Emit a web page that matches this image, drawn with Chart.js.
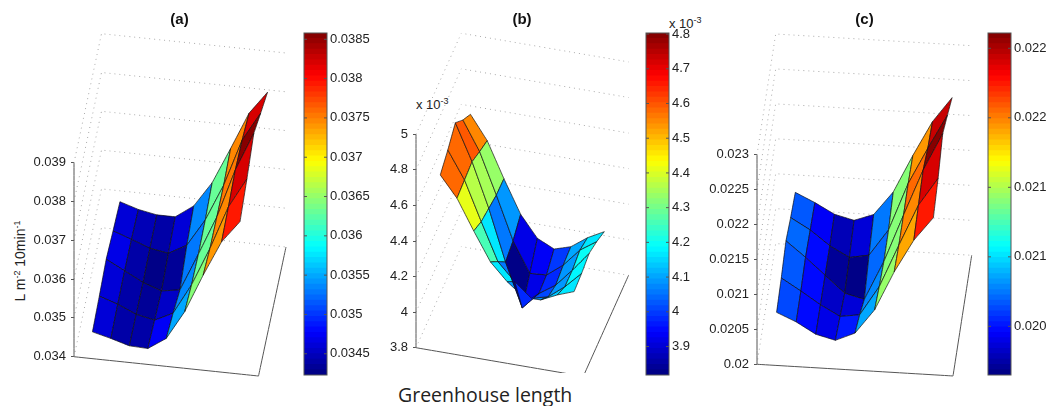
<!DOCTYPE html>
<html>
<head>
<meta charset="utf-8">
<title>Greenhouse length</title>
<script src="https://cdn.jsdelivr.net/npm/chart.js@4"></script>
<style>
  html, body { margin: 0; padding: 0; background: #fff; overflow: hidden; }
  #page { position: relative; width: 1051px; height: 406px; overflow: hidden; font-family: "Liberation Sans", Arial, sans-serif; color: #222; }
  #page canvas { position: absolute; top: 0; }
  .note { position: absolute; font-size: 13px; line-height: 13px; white-space: nowrap; }
  .note sup { font-size: 9px; line-height: 0; vertical-align: 5px; }
  #ylabel { left: 20px; top: 261px; font-size: 14px; transform: translate(-50%, -50%) rotate(-90deg); }
  #xlabel { left: 398px; top: 381px; font-family: "Open Sans", sans-serif; font-size: 19.5px; line-height: 28px; }
  #expB { left: 416px; top: 98px; }
  #expBar { left: 669px; top: 17px; }
</style>
</head>
<body>
<div id="page">
  <div class="note" id="ylabel">L m<sup>-2</sup> 10min<sup>-1</sup></div>
  <div class="note" id="xlabel">Greenhouse length</div>
  <div class="note" id="expB">x 10<sup>-3</sup></div>
  <div class="note" id="expBar">x 10<sup>-3</sup></div>
</div>
<script>
// surface heights, one list per column along the greenhouse, front row first
const zA = [
  [0.03469, 0.03478, 0.03490, 0.03480, 0.03472],
  [0.03457, 0.03462, 0.03465, 0.03463, 0.03457],
  [0.03443, 0.03441, 0.03440, 0.03445, 0.03448],
  [0.03441, 0.03431, 0.03423, 0.03437, 0.03448],
  [0.03472, 0.03454, 0.03431, 0.03463, 0.03481],
  [0.03546, 0.03532, 0.03528, 0.03533, 0.03546],
  [0.03645, 0.03631, 0.03629, 0.03628, 0.03639],
  [0.03736, 0.03743, 0.03755, 0.03749, 0.03735],
  [0.03793, 0.03820, 0.03854, 0.03823, 0.03794]
];
// panel b is in units of 10^-3
const zB = [
  [4.693, 4.739, 4.797, 4.718, 4.655],
  [4.578, 4.586, 4.594, 4.556, 4.523],
  [4.410, 4.368, 4.348, 4.328, 4.325],
  [4.252, 4.159, 4.062, 4.087, 4.141],
  [4.157, 4.063, 3.820, 3.920, 4.022],
  [4.085, 3.985, 3.918, 3.927, 3.978],
  [4.087, 4.010, 3.981, 3.999, 4.007],
  [4.131, 4.083, 4.082, 4.100, 4.074],
  [4.166, 4.174, 4.192, 4.163, 4.124]
];
const zC = [
  [0.02076, 0.02082, 0.02092, 0.02082, 0.02075],
  [0.02064, 0.02065, 0.02070, 0.02066, 0.02062],
  [0.02048, 0.02047, 0.02046, 0.02045, 0.02047],
  [0.02041, 0.02032, 0.02022, 0.02030, 0.02040],
  [0.02053, 0.02036, 0.02015, 0.02035, 0.02050],
  [0.02088, 0.02078, 0.02071, 0.02073, 0.02084],
  [0.02144, 0.02139, 0.02139, 0.02141, 0.02138],
  [0.02191, 0.02198, 0.02205, 0.02193, 0.02188],
  [0.02225, 0.02238, 0.02259, 0.02242, 0.02224]
];

const axisTicksA = [0.034, 0.035, 0.036, 0.037, 0.038, 0.039];
const axisLabelsA = ["0.034", "0.035", "0.036", "0.037", "0.038", "0.039"];
const axisTicksB = [3.8, 4, 4.2, 4.4, 4.6, 4.8, 5];
const axisLabelsB = ["3.8", "4", "4.2", "4.4", "4.6", "4.8", "5"];
const axisTicksC = [0.02, 0.0205, 0.021, 0.0215, 0.022, 0.0225, 0.023];
const axisLabelsC = ["0.02", "0.0205", "0.021", "0.0215", "0.022", "0.0225", "0.023"];

const barTicksA = [0.0345, 0.035, 0.0355, 0.036, 0.0365, 0.037, 0.0375, 0.038, 0.0385];
const barLabelsA = ["0.0345", "0.035", "0.0355", "0.036", "0.0365", "0.037", "0.0375", "0.038", "0.0385"];
const barTicksB = [3.9, 4, 4.1, 4.2, 4.3, 4.4, 4.5, 4.6, 4.7, 4.8];
const barLabelsB = ["3.9", "4", "4.1", "4.2", "4.3", "4.4", "4.5", "4.6", "4.7", "4.8"];
const barTicksC = [0.0205, 0.021, 0.0215, 0.022, 0.0225];
const barLabelsC = ["0.020", "0.021", "0.021", "0.022", "0.022"];

const climA = [0.03423, 0.03858];
const climB = [3.818, 4.803];
const climC = [0.02015, 0.02261];

Chart.defaults.font.family = '"Liberation Sans", Arial, sans-serif';
Chart.defaults.font.size = 13;
Chart.defaults.color = "#222";
Chart.defaults.animation = false;

// matlab jet, 64 steps
function jet(t) {
  const level = Math.min(63, Math.max(0, Math.floor(t * 64)));
  const u = (level + 0.5) / 64;
  const part = v => Math.round(255 * Math.min(1, Math.max(0, v)));
  const r = part(Math.min(4 * u - 1.5, -4 * u + 4.5));
  const g = part(Math.min(4 * u - 0.5, -4 * u + 3.5));
  const b = part(Math.min(4 * u + 0.5, -4 * u + 2.5));
  return `rgb(${r},${g},${b})`;
}

function addCanvas(left, width, height) {
  const c = document.createElement("canvas");
  c.width = width;
  c.height = height;
  c.style.left = left + "px";
  c.style.width = width + "px";
  c.style.height = height + "px";
  document.getElementById("page").appendChild(c);
  return c;
}

// view: shear of the fixed matlab camera, expressed in axis units
function project(view, i, j, z) {
  return { x: i + j * view.kx, y: z + i * view.ki + j * view.kj };
}

function lineSet(points, color, dash) {
  return {
    data: points,
    showLine: true,
    borderColor: color,
    borderWidth: 1,
    borderDash: dash || [],
    pointRadius: 0,
    fill: false,
    tension: 0.00001,
    clip: { left: 5, top: 5, right: 5, bottom: 0 }
  };
}

function renderSurface(p) {
  const v = p.view;
  const zLow = p.axisTicks[0];
  const zHigh = p.axisTicks[p.axisTicks.length - 1];
  const sets = [];

  for (const t of p.axisTicks) {
    sets.push(lineSet([
      project(v, 0, 0, t), project(v, 0, v.depth, t), project(v, 10, v.depth, t)
    ], "#aaa", [1, 4]));
  }
  sets.push(lineSet([
    project(v, 0, 0, zHigh), project(v, 0, 0, zLow),
    project(v, 10, 0, zLow), project(v, 10, v.depth, zLow)
  ], "#555"));

  // paint order: smallest key first
  const cells = [];
  for (let c = 0; c < p.z.length - 1; c++) {
    for (let r = 0; r < p.z[c].length - 1; r++) {
      cells.push({ c, r, key: p.paintKey(c, r) });
    }
  }
  cells.sort((a, b) => a.key - b.key);
  for (const { c, r } of cells) {
    const corner = (cc, rr) => project(v, cc + 1, rr + v.rowStart, p.z[cc][rr]);
    const t = (p.z[c + 1][r] - p.clim[0]) / (p.clim[1] - p.clim[0]);
    sets.push({
      data: [corner(c, r), corner(c + 1, r), corner(c + 1, r + 1), corner(c, r + 1), corner(c, r)],
      showLine: true,
      borderColor: "#111",
      borderWidth: 0.7,
      backgroundColor: jet(t),
      pointRadius: 0,
      fill: "shape",
      tension: 0.00001
    });
  }
  sets.forEach((s, k) => { s.order = -k; });

  const ctx = addCanvas(p.left, p.width, 406);
  new Chart(ctx, {
    type: "scatter",
    data: { datasets: sets },
    options: {
      responsive: false,
      events: [],
      layout: { padding: { bottom: 406 - p.plotBottom } },
      plugins: {
        legend: { display: false },
        tooltip: { enabled: false },
        title: {
          display: true,
          text: p.title,
          color: "#111",
          font: { size: 15, weight: "bold", lineHeight: 1 },
          padding: { top: 12, bottom: 3 }
        }
      },
      scales: {
        x: { type: "linear", display: false, min: 0, max: p.xMax },
        y: {
          type: "linear",
          min: p.yMin,
          max: p.yMax,
          border: { display: false },
          grid: { drawOnChartArea: false, tickLength: 3, color: "#555" },
          afterBuildTicks: s => { s.ticks = p.axisTicks.map(value => ({ value })); },
          afterFit: s => { s.width = p.axisWidth; },
          ticks: {
            autoSkip: false,
            padding: 5,
            callback: (val, i) => p.axisLabels[i]
          }
        }
      }
    }
  });
}

const barFrame = {
  id: "barFrame",
  afterDraw(chart) {
    const { ctx, chartArea: a, scales } = chart;
    ctx.save();
    ctx.strokeStyle = "#555";
    ctx.lineWidth = 1;
    ctx.strokeRect(a.left, a.top, a.right - a.left, a.bottom - a.top);
    ctx.beginPath();
    for (const t of scales.y.ticks) {
      const y = scales.y.getPixelForValue(t.value);
      ctx.moveTo(a.left, y);
      ctx.lineTo(a.left + 3, y);
      ctx.moveTo(a.right, y);
      ctx.lineTo(a.right - 3, y);
    }
    ctx.stroke();
    ctx.restore();
  }
};

function renderColorbar(p) {
  const [lo, hi] = p.clim;
  const sets = [];
  for (let k = 0; k < 64; k++) {
    sets.push({
      data: [[lo, lo + (hi - lo) * (k + 1) / 64]],
      backgroundColor: jet((k + 0.5) / 64),
      barPercentage: 1,
      categoryPercentage: 1
    });
  }
  const ctx = addCanvas(p.barLeft - 2, p.barWidth + 54, 406);
  new Chart(ctx, {
    type: "bar",
    data: { labels: [""], datasets: sets },
    plugins: [barFrame],
    options: {
      responsive: false,
      events: [],
      layout: { padding: { left: 2, top: 33, bottom: 31 } },
      plugins: { legend: { display: false }, tooltip: { enabled: false } },
      scales: {
        x: { display: false, stacked: true },
        y: {
          type: "linear",
          position: "right",
          min: lo,
          max: hi,
          border: { display: false },
          grid: { drawOnChartArea: false, drawTicks: false },
          afterBuildTicks: s => { s.ticks = p.barTicks.map(value => ({ value })); },
          afterFit: s => { s.width = 52; },
          ticks: {
            autoSkip: false,
            padding: 3,
            callback: (val, i) => p.barLabels[i]
          }
        }
      }
    }
  });
}

const panels = [
  {
    title: "(a)", z: zA, clim: climA, axisTicks: axisTicksA, axisLabels: axisLabelsA,
    barTicks: barTicksA, barLabels: barLabelsA,
    left: 14, width: 331, axisWidth: 60, plotBottom: 380,
    xMax: 14.688, yMin: 0.0334, yMax: 0.04242,
    view: { kx: 0.3724, ki: -4.974e-5, kj: 8.312e-4, depth: 4, rowStart: 0 },
    paintKey: (c, r) => c * 0.06 - r,
    barLeft: 304, barWidth: 23
  },
  {
    title: "(b)", z: zB, clim: climB, axisTicks: axisTicksB, axisLabels: axisLabelsB,
    barTicks: barTicksB, barLabels: barLabelsB,
    left: 356, width: 332, axisWidth: 60, plotBottom: 373,
    xMax: 16.26, yMin: 3.6577, yMax: 5.5868,
    view: { kx: 0.4513, ki: -0.01614, kj: 0.09477, depth: 6, rowStart: 1 },
    // the fold sits on top of the front rows, only its tip cell covers it
    paintKey: (c, r) => (c === 4 && r === 1 ? 9 : r + c * 0.01),
    barLeft: 646, barWidth: 23
  },
  {
    title: "(c)", z: zC, clim: climC, axisTicks: axisTicksC, axisLabels: axisLabelsC,
    barTicks: barTicksC, barLabels: barLabelsC,
    left: 697, width: 335, axisWidth: 60, plotBottom: 380,
    xMax: 14.03, yMin: 0.019775, yMax: 0.024785,
    view: { kx: 0.2385, ki: -1.6745e-5, kj: 4.319e-4, depth: 4, rowStart: 0 },
    paintKey: (c, r) => c * 0.04 - r,
    barLeft: 988, barWidth: 23
  }
];

panels.forEach(renderSurface);
panels.forEach(renderColorbar);
</script>
</body>
</html>
